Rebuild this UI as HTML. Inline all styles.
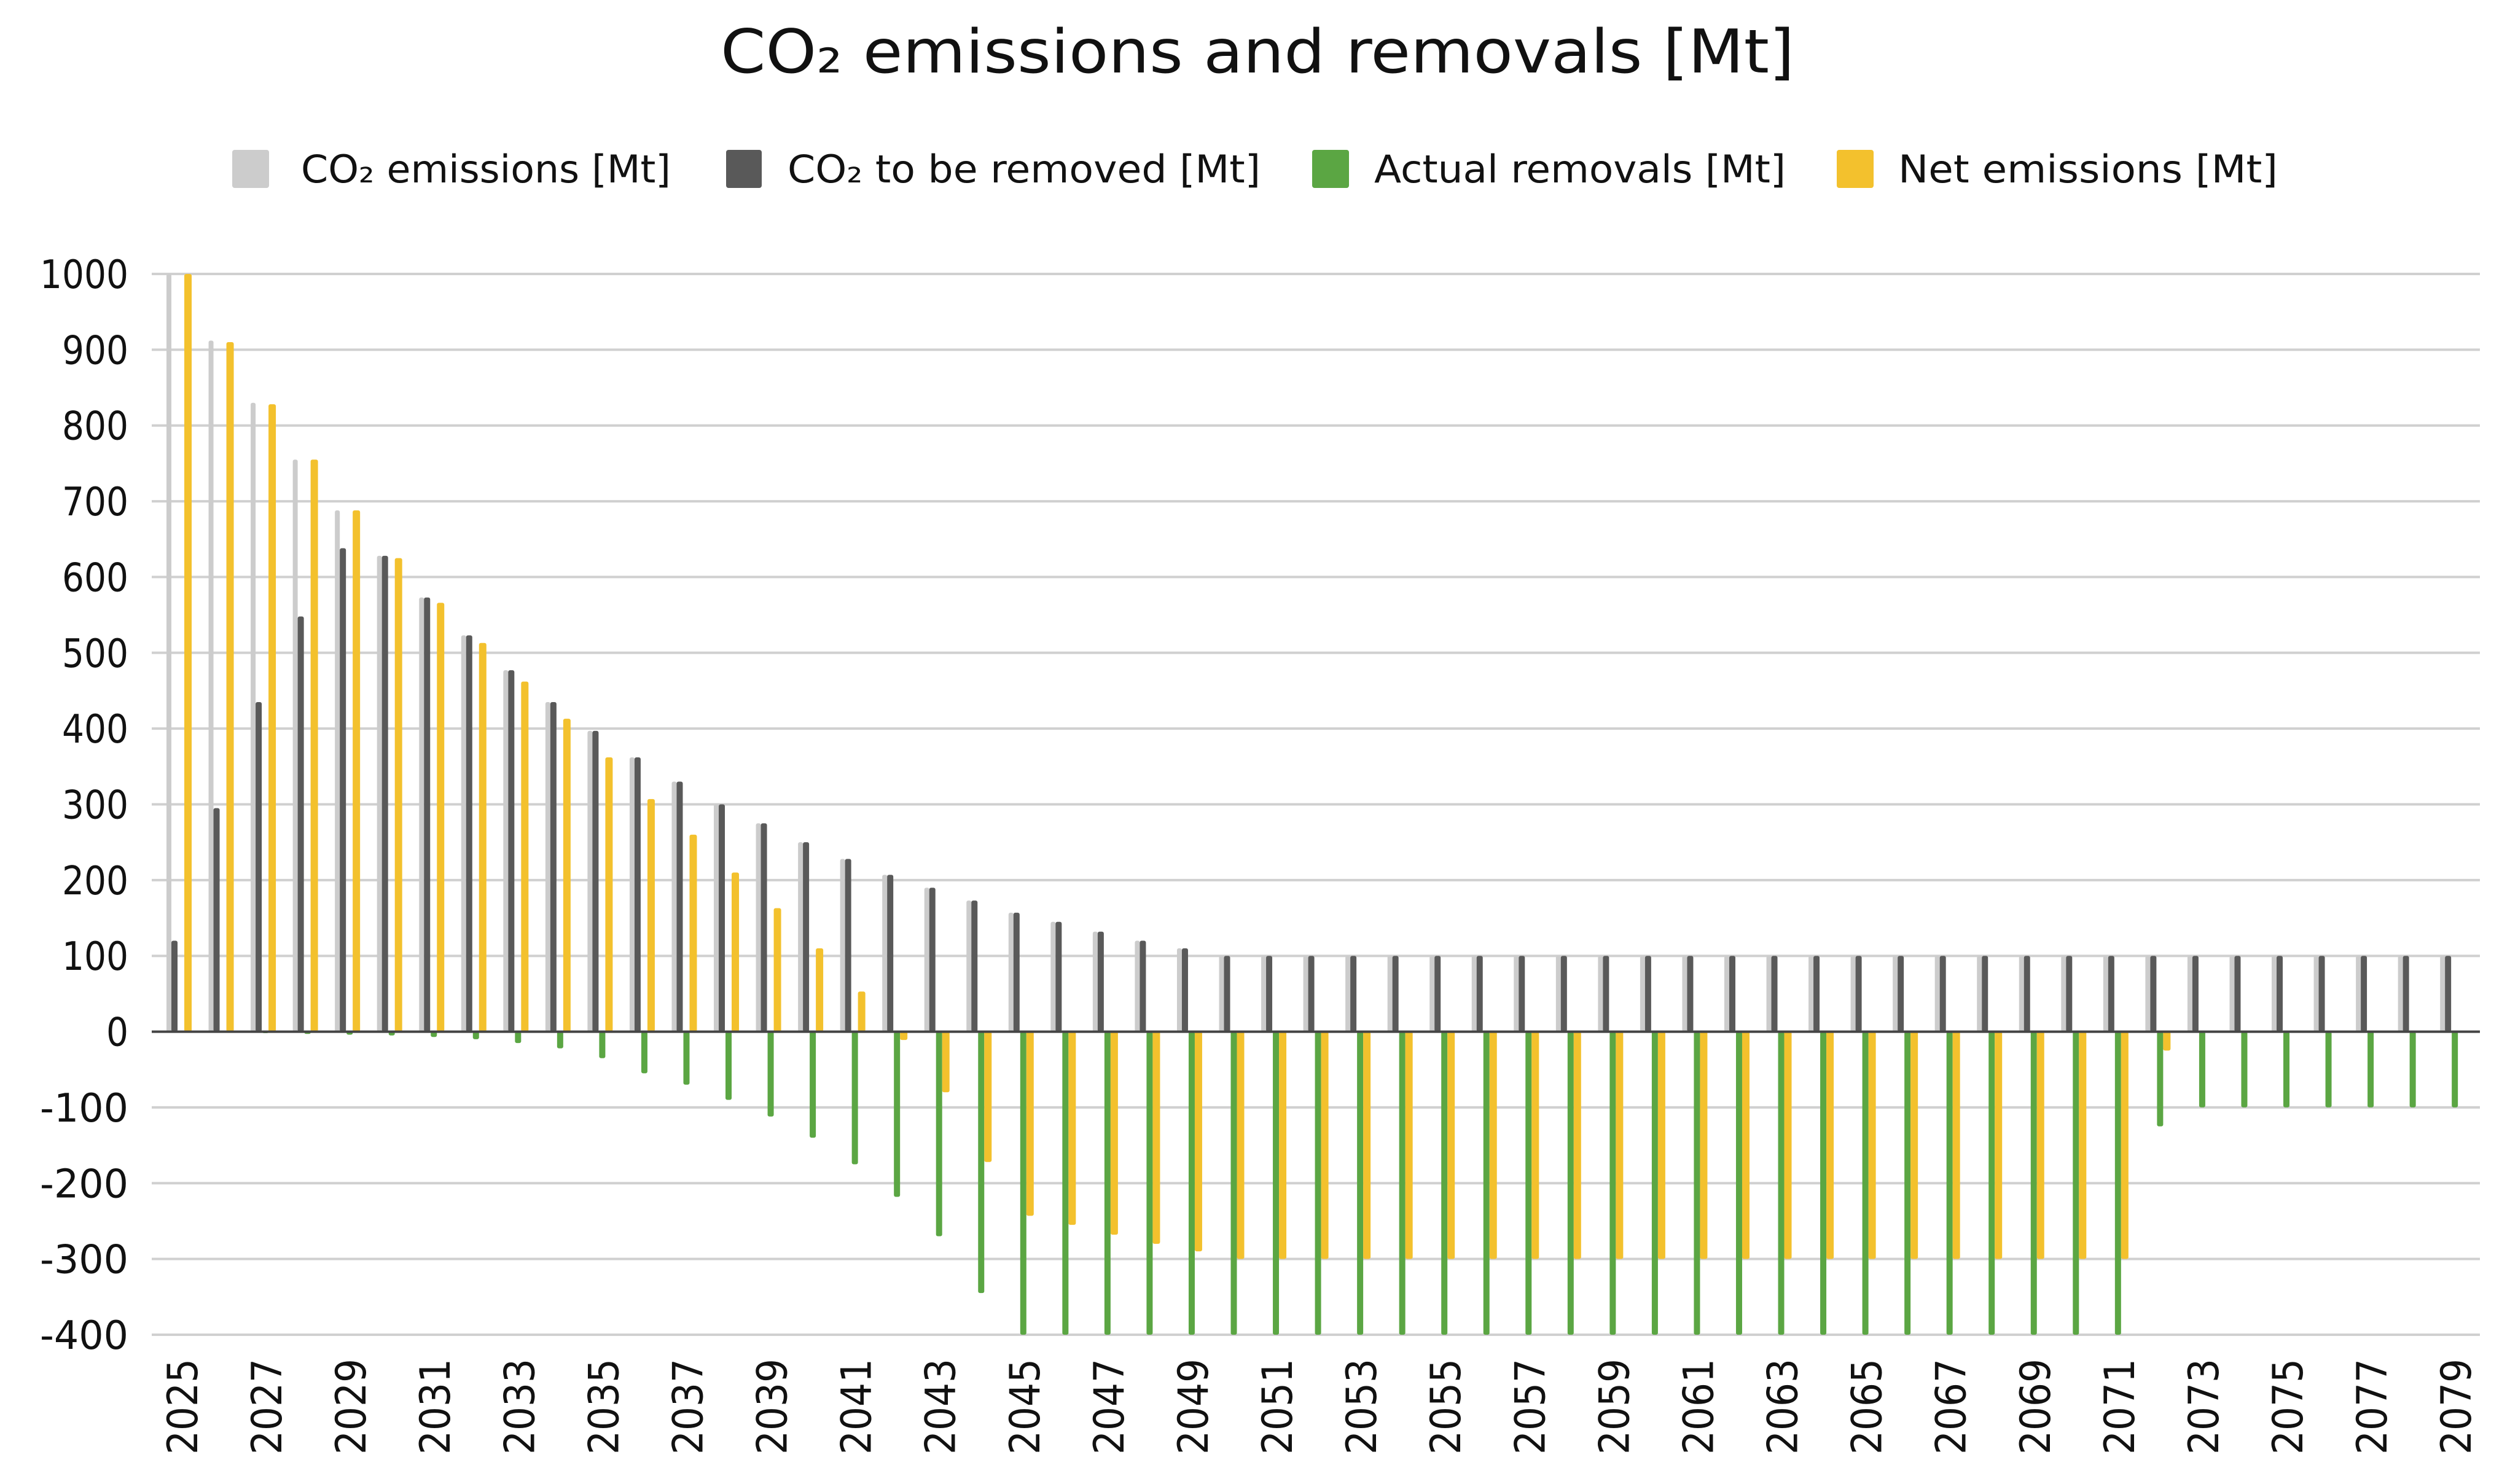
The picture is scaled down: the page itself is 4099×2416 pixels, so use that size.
<!DOCTYPE html>
<html><head><meta charset="utf-8"><style>
html,body{margin:0;padding:0;background:#fff;}
svg{display:block;}
text{font-family:"DejaVu Sans","Liberation Sans",sans-serif;fill:#111;}
</style></head><body>
<svg id="chart" width="4099" height="2416" viewBox="0 0 4099 2416" xmlns="http://www.w3.org/2000/svg">
<text x="2047" y="118" text-anchor="middle" font-size="98" textLength="1748" lengthAdjust="spacingAndGlyphs">CO₂ emissions and removals [Mt]</text>
<g>
<g><rect x="378" y="244" width="60" height="62" rx="4" fill="#cccccc"/><text x="490" y="297" font-size="62" textLength="602" lengthAdjust="spacingAndGlyphs">CO₂ emissions [Mt]</text></g>
<g><rect x="1182" y="244" width="58" height="62" rx="4" fill="#595959"/><text x="1282" y="297" font-size="62" textLength="770" lengthAdjust="spacingAndGlyphs">CO₂ to be removed [Mt]</text></g>
<g><rect x="2136" y="244" width="60" height="62" rx="4" fill="#5ba643"/><text x="2237" y="297" font-size="62" textLength="670" lengthAdjust="spacingAndGlyphs">Actual removals [Mt]</text></g>
<g><rect x="2990" y="244" width="60" height="62" rx="4" fill="#f3c12d"/><text x="3090" y="297" font-size="62" textLength="618" lengthAdjust="spacingAndGlyphs">Net emissions [Mt]</text></g>
</g>
<g id="grid"></g><g id="bars"></g><g id="axes"></g>
</svg>
<script>
const years = [];
for (let y = 2025; y <= 2079; y++) years.push(y);
const emissions = [1000,912,830,755,688,628,573,523,477,435,397,362,330,300,275,250,228,207,190,173,157,145,132,120,110,100,100,100,100,100,100,100,100,100,100,100,100,100,100,100,100,100,100,100,100,100,100,100,100,100,100,100,100,100,100];
const toBeRemoved = [120,295,435,548,638,628,573,523,477,435,397,362,330,300,275,250,228,207,190,173,157,145,132,120,110,100,100,100,100,100,100,100,100,100,100,100,100,100,100,100,100,100,100,100,100,100,100,100,100,100,100,100,100,100,100];
const removals = [0,-1,-2,-3,-4,-5,-7,-10,-15,-22,-35,-55,-70,-90,-112,-140,-175,-218,-270,-345,-400,-400,-400,-400,-400,-400,-400,-400,-400,-400,-400,-400,-400,-400,-400,-400,-400,-400,-400,-400,-400,-400,-400,-400,-400,-400,-400,-125,-100,-100,-100,-100,-100,-100,-100];
const netEmissions = [1000,910,828,755,688,625,566,513,462,413,362,307,260,210,163,110,53,-11,-80,-172,-243,-255,-268,-280,-290,-300,-300,-300,-300,-300,-300,-300,-300,-300,-300,-300,-300,-300,-300,-300,-300,-300,-300,-300,-300,-300,-300,-25,0,0,0,0,0,0,0];
const yTicks = [1000,900,800,700,600,500,400,300,200,100,0,-100,-200,-300,-400];

const NS = "http://www.w3.org/2000/svg";
const yMin = -400, yMax = 1000, yTop = 446, yBot = 2173;
function yScale(v){ return yBot - (v - yMin) / (yMax - yMin) * (yBot - yTop); }
function xScale(i){ return 296 + i * 68.54; }
function mk(tag, attrs, parent){ const e = document.createElementNS(NS, tag); for (const k in attrs) e.setAttribute(k, attrs[k]); parent.appendChild(e); return e; }

const grid = document.getElementById('grid');
const axes = document.getElementById('axes');
const bars = document.getElementById('bars');
yTicks.forEach(t => {
  if (t !== 0) {
    const l = mk('line', {x1:247, x2:4037, y1:yScale(t), y2:yScale(t), stroke:'#d0d0d0', 'stroke-width':4}, grid);
    
    
  }
  const s = String(t);
  const tx = mk('text', {x:209, y:yScale(t)+23, 'text-anchor':'end', 'font-size':64, textLength: s.length*36, lengthAdjust:'spacingAndGlyphs'}, axes);
  tx.textContent = s;
  
  
});

const series = [
  {vals: emissions, off: -21, w: 8, col: '#cccccc', name: 'bar-emissions'},
  {vals: toBeRemoved, off: -12, w: 10, col: '#595959', name: 'bar-to-be-removed'},
  {vals: removals, off: -1, w: 10, col: '#5ba643', name: 'bar-actual-removals'},
  {vals: netEmissions, off: 10, w: 12, col: '#f3c12d', name: 'bar-net-emissions'}
];
const y0 = yScale(0);
series.forEach(s => {
  s.vals.forEach((v, i) => {
    if (v === 0) return;
    const yv = yScale(v);
    const r = mk('rect', {x: xScale(i) + s.off - s.w/2, y: Math.min(yv, y0), width: s.w, height: Math.abs(yv - y0), rx: 3, fill: s.col}, bars);
    
    
  });
});
const zl = mk('line', {x1:247, x2:4037, y1:y0, y2:y0, stroke:'#444', 'stroke-width':4}, axes);



years.forEach((yr, i) => {
  if (i % 2 !== 0) return;
  const bx = xScale(i) + 25, by = 2368;
  const t = mk('text', {x: bx, y: by, transform: `rotate(-90 ${bx} ${by})`, 'font-size': 68, textLength: 156, lengthAdjust: 'spacingAndGlyphs'}, axes);
  t.textContent = String(yr);
  
  
});
</script>
</body></html>
